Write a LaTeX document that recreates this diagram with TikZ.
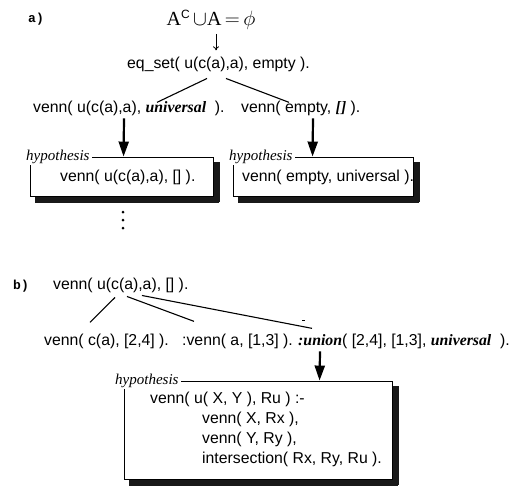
\documentclass[tikz,border=0pt]{standalone}
\usepackage{fontspec}
\setmainfont{Liberation Sans}
\newfontfamily\tms{Liberation Serif}
\newfontfamily\monob{Liberation Mono}
\usetikzlibrary{arrows.meta,calc}
\newcommand\bitxt[1]{{\tms\bfseries\itshape #1}}

\begin{document}
\begin{tikzpicture}[x=1pt,y=-1pt,
  every node/.style={inner sep=0pt,font=\fontsize{15.8}{20}\selectfont},
  txt/.style={anchor=base west},
  tag/.style={anchor=base west,font=\monob\bfseries\fontsize{13}{15}\selectfont},
  hyplabel/.style={anchor=west,fill=white,inner xsep=2pt,inner ysep=1pt,
    font=\tms\itshape\fontsize{15}{17}\selectfont},
  boxnode/.style={draw=black,line width=0.9pt,fill=white},
  sidebar/.style={fill=black!90,draw=black!90,line width=0.4pt,anchor=north west},
  branch/.style={line width=1.1pt},
  bigarrow/.style={line width=2.2pt,-{Triangle[length=15pt,width=10pt]}},
  thinarrow/.style={line width=0.8pt,-{To[length=4pt,width=6pt]}}]

\useasboundingbox (0,0) rectangle (522,487);

% ---------------- part a ----------------
\node[tag] (taga) at (28,23) {a)};
\node (formula) at (211,20) {\fontsize{20}{24}\selectfont
  {\tms A}\raisebox{7pt}{\fontsize{12}{12}\selectfont C}$\,\cup${\tms A}$\,{=}\,\phi$};
\node[txt] (eqset) at (127,69) {eq\_set( u(c(a),a), empty ).};

\draw[thinarrow] ([shift={(5,14)}]formula.center) -- ([shift={(89,-7)}]eqset.north west);

\node[txt] (vennA) at (33,112) {venn( u(c(a),a), \bitxt{universal}\ \ ).};
\node[txt] (vennB) at (241,112) {venn( empty, \bitxt{[]} ).};

\draw[branch] ([shift={(80,6)}]eqset.south west) -- ([shift={(124,2)}]vennA.north west);
\draw[branch] ([shift={(99,6)}]eqset.south west) -- ([shift={(48,2)}]vennB.north west);

% hypothesis boxes of part a; dark bars on the right and lower sides form the shadow
\node[boxnode,minimum width=183pt,minimum height=39pt] (box1) at (121.5,176.5) {};
\node[boxnode,minimum width=180pt,minimum height=39pt] (box2) at (323,176.5) {};
\node[sidebar,minimum width=5pt,minimum height=39pt] (sh1r) at ([shift={(0.5,5)}]box1.north east) {};
\node[sidebar,minimum width=183pt,minimum height=5pt] (sh1b) at ([shift={(5,0.5)}]box1.south west) {};
\node[sidebar,minimum width=5pt,minimum height=39pt] (sh2r) at ([shift={(0.5,5)}]box2.north east) {};
\node[sidebar,minimum width=180pt,minimum height=5pt] (sh2b) at ([shift={(5,0.5)}]box2.south west) {};
\node[hyplabel] (hyp1) at (24,157) {hypothesis};
\node[hyplabel] (hyp2) at (227,157) {hypothesis};
\node[txt] (hypA) at (60,181) {venn( u(c(a),a), [] ).};
\node[txt] (hypB) at (242,181) {venn( empty, universal ).};

\draw[bigarrow] ([shift={(91,3)}]vennA.south west) -- ([shift={(94,0)}]box1.north west);
\draw[bigarrow] ([shift={(72,3)}]vennB.south west) -- ([shift={(80,0)}]box2.north west);

\foreach \dy in {212,220,228}
  \fill (123,\dy) circle (1.5pt);

% ---------------- part b ----------------
\node[tag] (tagb) at (13,289) {b)};
\node[txt] (root) at (53,289) {venn( u(c(a),a), [] ).};

\node[txt] (leafA) at (44,345) {venn( c(a), [2,4] ).};
\node[txt] (leafB) at (182,345) {:venn( a, [1,3] ).};
\node[txt] (leafC) at (298,345) {\bitxt{:union}( [2,4], [1,3], \bitxt{universal}\ \ ).};

\draw[branch] ([shift={(62,5)}]root.south west) -- ([shift={(46,-11)}]leafA.north west);
\draw[branch] ([shift={(74,4)}]root.south west) -- ([shift={(12,-12)}]leafB.north west);
\draw[branch] ([shift={(89,3)}]root.south west) -- ([shift={(14,-5)}]leafC.north west);
\draw[line width=0.8pt] (302,320.5) -- (305,320.5);

\node[boxnode,minimum width=268pt,minimum height=98pt] (box3) at (258,430) {};
\node[sidebar,minimum width=5pt,minimum height=98pt] (sh3r) at ([shift={(0.5,5)}]box3.north east) {};
\node[sidebar,minimum width=268pt,minimum height=5pt] (sh3b) at ([shift={(5,0.5)}]box3.south west) {};
\node[hyplabel] (hyp3) at (113,381) {hypothesis};

\draw[bigarrow] ([shift={(22,3)}]leafC.south west) -- ([shift={(196,0)}]box3.north west);

\node[txt] (rule1) at (150,403) {venn( u( X, Y ), Ru ) :-};
\node[txt] (rule2) at (202,423) {venn( X, Rx ),};
\node[txt] (rule3) at (202,443) {venn( Y, Ry ),};
\node[txt] (rule4) at (202,463) {intersection( Rx, Ry, Ru ).};
\end{tikzpicture}
\end{document}
